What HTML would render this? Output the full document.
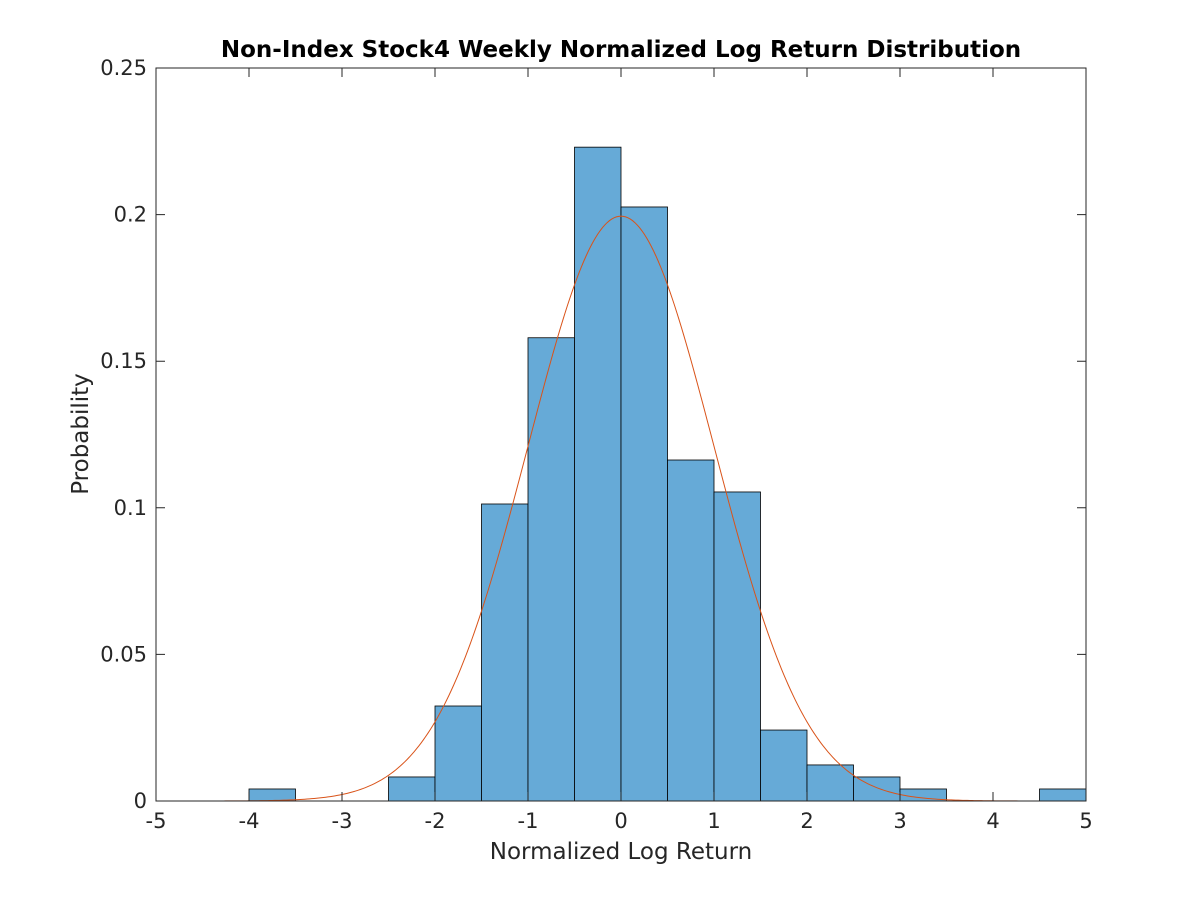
<!DOCTYPE html>
<html><head><meta charset="utf-8"><style>
body{margin:0;background:#fff;}
svg text{font-family:"DejaVu Sans",sans-serif;}
</style></head><body>
<svg id="chart" width="1200" height="900" xmlns="http://www.w3.org/2000/svg">
<rect width="1200" height="900" fill="#fff"/>
<text x="621" y="57" text-anchor="middle" font-size="23" font-weight="bold" fill="#000">Non-Index Stock4 Weekly Normalized Log Return Distribution</text>
<g id="bars"></g>
<path id="fit" fill="none" stroke="#D95319" stroke-width="1"/>
<rect x="156" y="68" width="930" height="733" fill="none" stroke="#262626" stroke-width="1"/>
<g id="ticks"></g>
<text x="621" y="859" text-anchor="middle" font-size="23" fill="#262626">Normalized Log Return</text>
<text transform="translate(88,434) rotate(-90)" text-anchor="middle" font-size="23" fill="#262626">Probability</text>
</svg>
<script>
const binEdgesLeft=[-4,-2.5,-2,-1.5,-1,-0.5,0,0.5,1,1.5,2,2.5,3,4.5];
const binProbs=[0.0041,0.0082,0.0324,0.1013,0.158,0.223,0.2026,0.1163,0.1054,0.0242,0.0123,0.0082,0.0041,0.0041];
const binWidth=0.5;
const fitMu=0, fitSigma=1;
const xTicks=[-5,-4,-3,-2,-1,0,1,2,3,4,5];
const yTicks=[0,0.05,0.1,0.15,0.2,0.25];
const yTickLabels=["0","0.05","0.1","0.15","0.2","0.25"];
const X0=156,X1=1086,Y0=801,Y1=68;
const xs=v=>X0+(v+5)/10*(X1-X0);
const ys=v=>Y0-v/0.25*(Y0-Y1);
const NS="http://www.w3.org/2000/svg";
const bars=document.getElementById('bars');
binEdgesLeft.forEach((l,i)=>{
 const r=document.createElementNS(NS,'rect');
 r.setAttribute('x',xs(l));r.setAttribute('y',ys(binProbs[i]));
 r.setAttribute('width',xs(l+binWidth)-xs(l));r.setAttribute('height',ys(0)-ys(binProbs[i]));
 r.setAttribute('fill','#66AAD7');r.setAttribute('stroke','#000');r.setAttribute('stroke-width','0.8');
 
 
 bars.appendChild(r);
});
let d='';
for(let k=0;k<=400;k++){const x=-5+k*10/400;
 const y=binWidth*Math.exp(-0.5*((x-fitMu)/fitSigma)**2)/(fitSigma*Math.sqrt(2*Math.PI));
 d+=(k?'L':'M')+xs(x).toFixed(2)+','+ys(y).toFixed(2);}
document.getElementById('fit').setAttribute('d',d);
const tg=document.getElementById('ticks');
xTicks.forEach(t=>{
 const x=xs(t);
 const l=document.createElementNS(NS,'path');
 l.setAttribute('d',`M${x},${Y0}v-9M${x},${Y1}v9`);l.setAttribute('stroke','#262626');
 
 
 tg.appendChild(l);
 const tx=document.createElementNS(NS,'text');
 tx.setAttribute('x',x);tx.setAttribute('y',Y0+27);tx.setAttribute('text-anchor','middle');
 tx.setAttribute('font-size','21');tx.setAttribute('fill','#262626');tx.textContent=t;
 
 
 tg.appendChild(tx);
});
yTicks.forEach((t,i)=>{
 const y=ys(t);
 const l=document.createElementNS(NS,'path');
 l.setAttribute('d',`M${X0},${y}h9M${X1},${y}h-9`);l.setAttribute('stroke','#262626');
 
 
 tg.appendChild(l);
 const tx=document.createElementNS(NS,'text');
 tx.setAttribute('x',X0-9);tx.setAttribute('y',y+7);tx.setAttribute('text-anchor','end');
 tx.setAttribute('font-size','21');tx.setAttribute('fill','#262626');tx.textContent=yTickLabels[i];
 
 
 tg.appendChild(tx);
});
</script>
</body></html>
